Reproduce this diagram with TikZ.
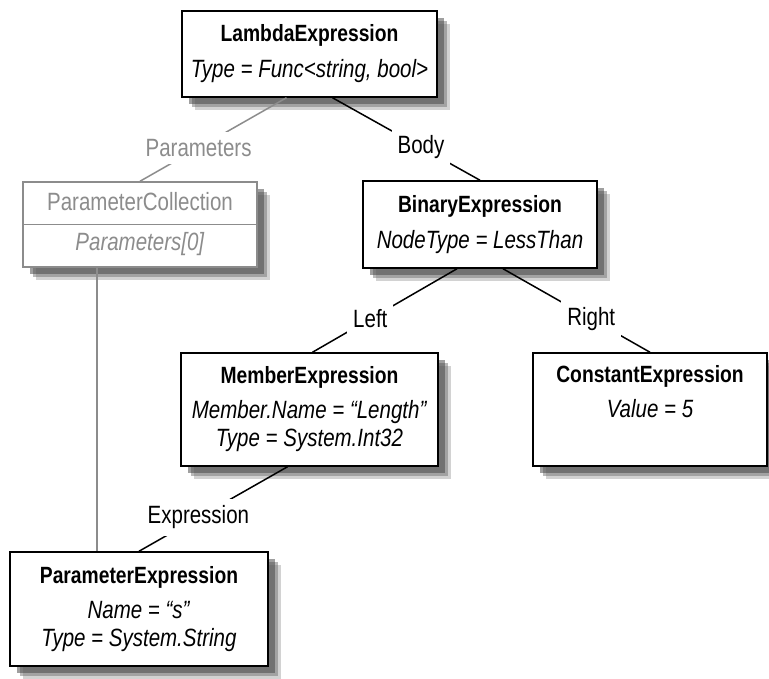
\documentclass[tikz,border=0pt]{standalone}
\usepackage{fontspec}
\IfFontExistsTF{Liberation Sans Narrow}
  {\setmainfont{Liberation Sans Narrow}}
  {\setmainfont{Liberation Sans}[FakeStretch=0.82]}
\usetikzlibrary{shadows}
\definecolor{pgray}{RGB}{140,140,140}
\newcommand{\ttl}[1]{{\fontsize{23.5}{28}\selectfont\bfseries #1}}

\begin{document}
\begin{tikzpicture}[x=1pt, y=-1pt, font=\fontsize{25}{28}\selectfont,
  ebox/.style={draw, line width=1.5pt, fill=white, inner sep=0pt, align=center,
               drop shadow={shadow xshift=13pt, shadow yshift=-13pt, fill=black!35},
               drop shadow={shadow xshift=10pt, shadow yshift=-10pt, fill=black!55},
               drop shadow={shadow xshift=7pt, shadow yshift=-7pt, fill=black!75}},
  link/.style={line width=1.5pt},
  glink/.style={link, draw=pgray},
  lbl/.style={fill=white, inner xsep=6pt, inner ysep=7pt},
  glbl/.style={lbl, text=pgray}]
  \useasboundingbox (0,0) rectangle (769,679);

  % top: the lambda
  \node[ebox, minimum width=255pt, minimum height=86pt] (lam) at (309.5,54)
    {\ttl{LambdaExpression}\\[8pt]\textit{Type = Func<string, bool>}};

  % second row
  \node[ebox, draw=pgray, text=pgray, minimum width=234pt, minimum height=85pt] (pcol) at (140,224.5)
    {ParameterCollection\\[12pt]\textit{Parameters[0]}};
  \draw[glink] (pcol.west) -- (pcol.east);
  \node[ebox, minimum width=234pt, minimum height=87pt] (bin) at (480,224.5)
    {\ttl{BinaryExpression}\\[8pt]\textit{NodeType = LessThan}};

  % third row
  \node[ebox, minimum width=257pt, minimum height=113pt] (mem) at (309.5,409.5)
    {\ttl{MemberExpression}\\[7pt]\textit{Member.Name = “Length”}\\\textit{Type = System.Int32}};
  \node[ebox, minimum width=234pt, minimum height=113pt] (con) at (650,409.5)
    {\ttl{ConstantExpression}\\[7pt]\textit{Value = 5}\\ \strut};

  % bottom: the parameter
  \node[ebox, minimum width=258pt, minimum height=114pt] (pexp) at (139,609)
    {\ttl{ParameterExpression}\\[7pt]\textit{Name = “s”}\\\textit{Type = System.String}};

  % edges with their labels
  \draw[glink] ([xshift=-23pt]lam.south) -- node[glbl, pos=0.6] (lpar) {Parameters} (pcol.north);
  \draw[link] ([xshift=23pt]lam.south) -- node[lbl, pos=0.6] (lbody) {Body} (bin.north);
  \draw[link] ([xshift=-23pt]bin.south) -- node[lbl, pos=0.6] (lleft) {Left} ([xshift=3pt]mem.north);
  \draw[link] ([xshift=23pt]bin.south) -- node[lbl, pos=0.6] (lright) {Right} (con.north);
  \draw[link] ([xshift=-22pt]mem.south) -- node[lbl, pos=0.6] (lexpr) {Expression} (pexp.north);
  \draw[glink] ([xshift=-43pt]pcol.south) -- ([xshift=-42pt]pexp.north);
\end{tikzpicture}
\end{document}
